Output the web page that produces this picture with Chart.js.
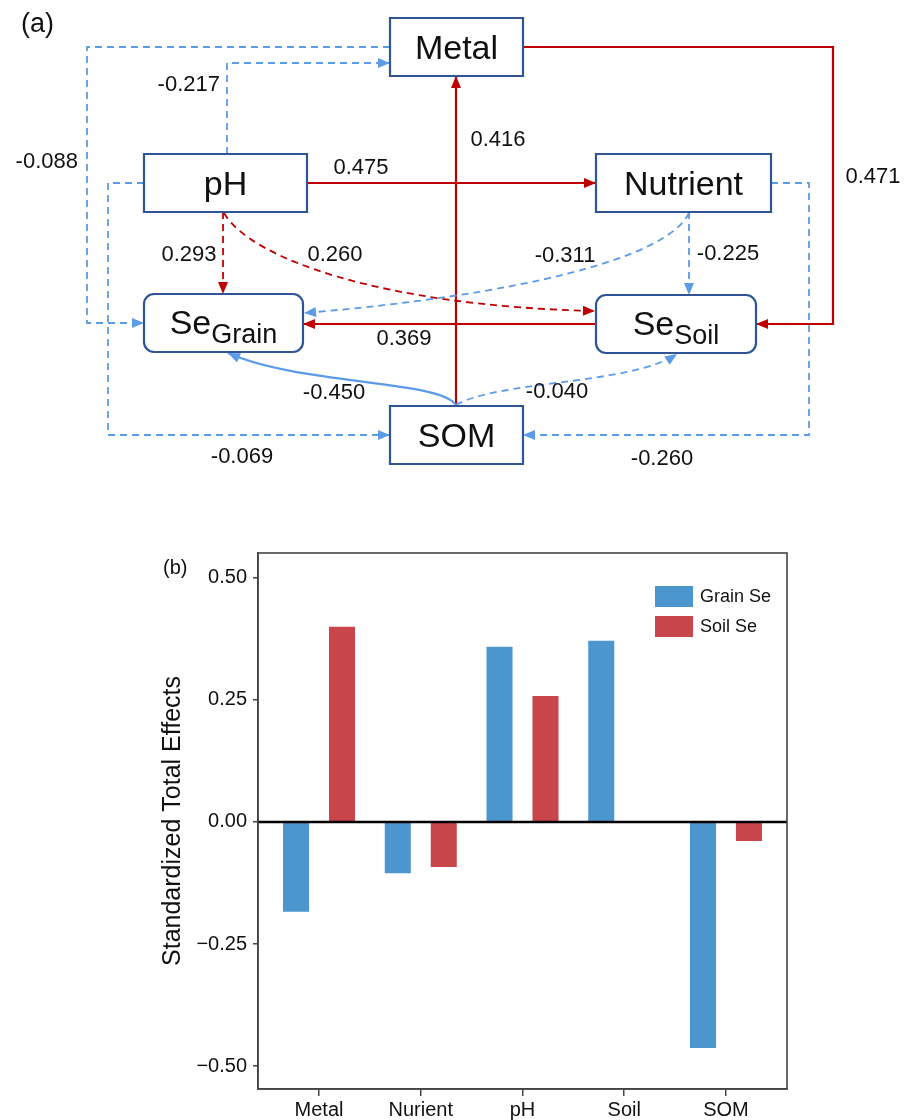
<!DOCTYPE html>
<html>
<head>
<meta charset="utf-8">
<script src="https://cdn.jsdelivr.net/npm/chart.js@4.4.1/dist/chart.umd.min.js"></script>
<style>
  body { margin: 0; background: #fff; }
  canvas { position: absolute; left: 0; }
</style>
</head>
<body>
<canvas id="pathChart" width="913" height="500" style="top:0"></canvas>
<canvas id="barChart" width="913" height="585" style="top:535px"></canvas>
<script>
//########## DATA ###########

// (a) path model
var pathNodes = ['Metal', 'pH', 'Nutrient', 'SeGrain', 'SeSoil', 'SOM'];
var pathFrom = ['Metal', 'pH', 'pH', 'SOM', 'Metal', 'pH', 'Nutrient', 'pH', 'pH', 'Nutrient', 'Nutrient', 'SeSoil', 'SOM', 'SOM'];
var pathTo = ['SeGrain', 'Metal', 'Nutrient', 'Metal', 'SeSoil', 'SOM', 'SOM', 'SeGrain', 'SeSoil', 'SeGrain', 'SeSoil', 'SeGrain', 'SeGrain', 'SeSoil'];
var pathCoef = [-0.088, -0.217, 0.475, 0.416, 0.471, -0.069, -0.260, 0.293, 0.260, -0.311, -0.225, 0.369, -0.450, -0.040];
var pathSignif = [false, false, true, true, true, false, false, false, false, false, false, true, true, false];

// (b) total effects
var categories = ['Metal', 'Nurient', 'pH', 'Soil', 'SOM'];
var grainSe = [-0.184, -0.105, 0.359, 0.371, -0.463];
var soilSe = [0.400, -0.092, 0.258, null, -0.039];
var yTicks = [-0.50, -0.25, 0.00, 0.25, 0.50];

//########## LAYOUT (diagram) ###########

var nodeBoxes = {
    Metal: { x: 390, y: 18, w: 133, h: 58 },
    pH: { x: 144, y: 154, w: 163, h: 58 },
    Nutrient: { x: 596, y: 154, w: 175, h: 58 },
    SeGrain: { x: 144, y: 294, w: 159, h: 58, round: true, sub: 'Grain' },
    SeSoil: { x: 596, y: 295, w: 160, h: 58, round: true, sub: 'Soil' },
    SOM: { x: 390, y: 406, w: 133, h: 58 }
};

// route of each path (same order as pathFrom), label anchor
var pathRoutes = [
    { pts: [[390, 47], [87, 47], [87, 323], [144, 323]], lab: [78, 162, 'right'] },
    { pts: [[227, 154], [227, 63], [390, 63]], lab: [220, 85, 'right'] },
    { pts: [[307, 183], [596, 183]], lab: [361, 168, 'center'] },
    { pts: [[456, 406], [456, 76]], lab: [498, 140, 'center'] },
    { pts: [[523, 47], [833, 47], [833, 324], [756, 324]], lab: [873, 177, 'center'] },
    { pts: [[144, 183], [108, 183], [108, 435], [390, 435]], lab: [242, 457, 'center'] },
    { pts: [[771, 183], [809, 183], [809, 435], [523, 435]], lab: [662, 459, 'center'] },
    { pts: [[223, 212], [223, 294]], lab: [189, 255, 'center'] },
    { curve: [[224, 213], [250, 258], [380, 306], [595, 311]], lab: [335, 255, 'center'] },
    { curve: [[689, 213], [668, 258], [520, 295], [304, 313]], lab: [565, 256, 'center'] },
    { pts: [[689, 212], [689, 295]], lab: [728, 254, 'center'] },
    { pts: [[596, 324], [303, 324]], lab: [404, 339, 'center'] },
    { curve: [[456, 405], [440, 380], [300, 385], [228, 353]], lab: [334, 393, 'center'] },
    { curve: [[456, 405], [500, 380], [630, 385], [677, 354]], lab: [557, 392, 'center'] }
];

var RED = '#c00000';
var BLUE = '#5b9be8';
var BOX = '#2f5597';

//########## PATH DIAGRAM ###########

var diagramPlugin = {
    id: 'diagram',
    afterDraw: function (chart) {
        var ctx = chart.ctx;
        var xs = chart.scales.x, ys = chart.scales.y;
        function X(v) { return xs.getPixelForValue(v); }
        function Y(v) { return ys.getPixelForValue(v); }

        ctx.save();
        // panel label
        ctx.fillStyle = '#111';
        ctx.font = '27px Arial, "Liberation Sans"';
        ctx.textBaseline = 'middle';
        ctx.textAlign = 'left';
        ctx.fillText('(a)', X(21), Y(25));

        // edges
        pathCoef.forEach(function (coef, i) {
            var r = pathRoutes[i];
            var col = coef > 0 ? RED : BLUE;
            ctx.strokeStyle = col;
            ctx.fillStyle = col;
            ctx.lineWidth = pathSignif[i] ? 2.2 : 1.8;
            ctx.setLineDash(pathSignif[i] ? [] : [7, 5]);
            ctx.beginPath();
            var end, prev;
            if (r.curve) {
                var c = r.curve;
                ctx.moveTo(X(c[0][0]), Y(c[0][1]));
                ctx.bezierCurveTo(X(c[1][0]), Y(c[1][1]), X(c[2][0]), Y(c[2][1]), X(c[3][0]), Y(c[3][1]));
                end = c[3]; prev = c[2];
            } else {
                r.pts.forEach(function (p, k) {
                    if (k == 0) ctx.moveTo(X(p[0]), Y(p[1]));
                    else ctx.lineTo(X(p[0]), Y(p[1]));
                });
                end = r.pts[r.pts.length - 1]; prev = r.pts[r.pts.length - 2];
            }
            ctx.stroke();
            ctx.setLineDash([]);

            // arrow head
            var ang = Math.atan2(Y(end[1]) - Y(prev[1]), X(end[0]) - X(prev[0]));
            var len = 12, half = 5;
            var ex = X(end[0]), ey = Y(end[1]);
            ctx.beginPath();
            ctx.moveTo(ex, ey);
            ctx.lineTo(ex - len * Math.cos(ang) + half * Math.sin(ang), ey - len * Math.sin(ang) - half * Math.cos(ang));
            ctx.lineTo(ex - len * Math.cos(ang) - half * Math.sin(ang), ey - len * Math.sin(ang) + half * Math.cos(ang));
            ctx.closePath();
            ctx.fill();

            // coefficient
            ctx.fillStyle = '#111';
            ctx.font = '22px Arial, "Liberation Sans"';
            ctx.textAlign = r.lab[2];
            ctx.fillText(coef.toFixed(3), X(r.lab[0]), Y(r.lab[1]));
        });

        // nodes
        pathNodes.forEach(function (name) {
            var b = nodeBoxes[name];
            ctx.beginPath();
            if (b.round) ctx.roundRect(X(b.x), Y(b.y), b.w, b.h, 10);
            else ctx.rect(X(b.x), Y(b.y), b.w, b.h);
            ctx.fillStyle = '#fff';
            ctx.fill();
            ctx.lineWidth = 2.2;
            ctx.strokeStyle = BOX;
            ctx.stroke();

            var cx = X(b.x + b.w / 2), cy = Y(b.y + b.h / 2);
            ctx.fillStyle = '#111';
            ctx.textBaseline = 'alphabetic';
            if (b.sub) {
                ctx.font = '34px Arial, "Liberation Sans"';
                var w1 = ctx.measureText('Se').width;
                ctx.font = '27px Arial, "Liberation Sans"';
                var w2 = ctx.measureText(b.sub).width;
                var sx = cx - (w1 + w2) / 2;
                ctx.textAlign = 'left';
                ctx.font = '34px Arial, "Liberation Sans"';
                ctx.fillText('Se', sx, cy + 11);
                ctx.font = '27px Arial, "Liberation Sans"';
                ctx.fillText(b.sub, sx + w1, cy + 20);
            } else {
                ctx.font = '34px Arial, "Liberation Sans"';
                ctx.textAlign = 'center';
                ctx.fillText(name, cx, cy + 12);
            }
            ctx.textBaseline = 'middle';
        });
        ctx.restore();
    }
};

var pathChart = new Chart(document.getElementById('pathChart').getContext('2d'), {
    type: 'scatter',
    data: { datasets: [] },
    options: {
        responsive: false,
        animation: false,
        layout: { padding: 0 },
        plugins: { legend: { display: false }, tooltip: { enabled: false } },
        scales: {
            x: { type: 'linear', min: 0, max: 913, display: false },
            y: { type: 'linear', min: 0, max: 500, reverse: true, display: false }
        }
    },
    plugins: [diagramPlugin]
});

//########## BAR CHART ###########

var barFrame = {
    id: 'barFrame',
    afterDatasetsDraw: function (chart) {
        var ctx = chart.ctx, a = chart.chartArea;
        var y0 = chart.scales.y.getPixelForValue(0);
        ctx.save();
        // zero line
        ctx.strokeStyle = '#000';
        ctx.lineWidth = 2.4;
        ctx.beginPath();
        ctx.moveTo(a.left, y0);
        ctx.lineTo(a.right, y0);
        ctx.stroke();
        // box
        ctx.strokeStyle = '#444';
        ctx.lineWidth = 1.6;
        ctx.strokeRect(a.left, a.top, a.right - a.left, a.bottom - a.top);

        // legend inside the panel
        ctx.font = '18px Arial, "Liberation Sans"';
        ctx.textBaseline = 'middle';
        ctx.textAlign = 'left';
        chart.data.datasets.forEach(function (ds, i) {
            var bx = a.right - 132, by = a.top + 33 + i * 30;
            ctx.fillStyle = ds.backgroundColor;
            ctx.fillRect(bx, by, 38, 21);
            ctx.fillStyle = '#111';
            ctx.fillText(ds.label, bx + 45, by + 11);
        });

        // panel label
        ctx.font = '20px Arial, "Liberation Sans"';
        ctx.fillText('(b)', 163, a.top + 15);
        ctx.restore();
    }
};

var barData = {
    datasets: [
        {
            label: 'Grain Se',
            data: categories.map(function (c, i) { return { x: i, y: grainSe[i] }; }),
            backgroundColor: '#4b96ce'
        },
        {
            label: 'Soil Se',
            data: categories.map(function (c, i) { return { x: i, y: soilSe[i] }; }),
            backgroundColor: '#c8454a'
        }
    ]
};

var barOptions = {
    responsive: false,
    animation: false,
    categoryPercentage: 0.904,
    barPercentage: 0.566,
    layout: { padding: { left: 158, right: 126, top: 8, bottom: 0 } },
    plugins: { legend: { display: false }, tooltip: { enabled: false } },
    scales: {
        x: {
            type: 'linear',
            min: -0.6,
            max: 4.6,
            offset: false,
            afterBuildTicks: function (scale) {
                scale.ticks = categories.map(function (c, i) { return { value: i }; });
            },
            afterFit: function (scale) { scale.height = 31; },
            grid: { display: true, drawOnChartArea: false, offset: false, tickLength: 7, color: '#444', lineWidth: 1.5 },
            border: { display: true, color: '#444', width: 1.6 },
            ticks: {
                padding: 2,
                maxRotation: 0,
                color: '#111',
                font: { family: 'Arial, "Liberation Sans"', size: 20 },
                callback: function (value) { return categories[value]; }
            }
        },
        y: {
            min: -0.547,
            max: 0.551,
            afterBuildTicks: function (scale) {
                scale.ticks = yTicks.map(function (v) { return { value: v }; });
            },
            afterFit: function (scale) { scale.width = 100; },
            grid: { display: true, drawOnChartArea: false, tickLength: 5, color: '#444', lineWidth: 1.5 },
            border: { display: true, color: '#444', width: 1.6 },
            ticks: {
                padding: 6,
                color: '#111',
                font: { family: 'Arial, "Liberation Sans"', size: 20 },
                callback: function (value) { return value.toFixed(2).replace('-', '\u2212'); }
            },
            title: {
                display: true,
                text: 'Standardized Total Effects',
                color: '#111',
                padding: { top: 0, bottom: 0 },
                font: { family: 'Arial, "Liberation Sans"', size: 25 }
            }
        }
    }
};

var barChart = new Chart(document.getElementById('barChart').getContext('2d'), {
    type: 'bar',
    data: barData,
    options: barOptions,
    plugins: [barFrame]
});
</script>
</body>
</html>
